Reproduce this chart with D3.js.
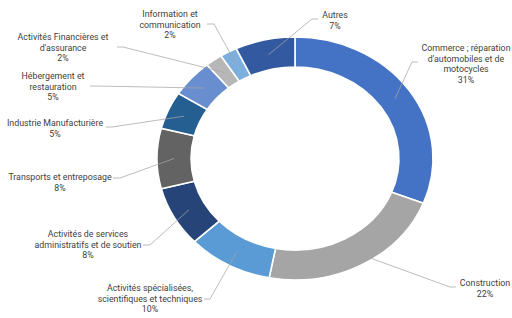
<!DOCTYPE html>
<html>
<head>
<meta charset="utf-8">
<script src="https://cdn.jsdelivr.net/npm/d3@7"></script>
<style>
  body { margin: 0; background: #fff; }
  svg text { font-family: 'Liberation Sans Narrow', 'Roboto', sans-serif; font-size: 8.8px; fill: #404040; }
</style>
</head>
<body>
<div id="chart"></div>
<script>
const categories = [
  ['Commerce ; réparation', "d'automobiles et de", 'motocycles'],
  ['Construction'],
  ['Activités spécialisées,', 'scientifiques et techniques'],
  ['Activités de services', 'administratifs et de soutien'],
  ['Transports et entreposage'],
  ['Industrie Manufacturière'],
  ['Hébergement et', 'restauration'],
  ['Activités Financières et', "d'assurance"],
  ['Information et', 'communication'],
  ['Autres']
]
const values = [31, 22, 10, 8, 8, 5, 5, 2, 2, 7]
const colors = ['#4472c4', '#a5a5a5', '#5b9bd5', '#264478', '#636363',
  '#255e91', '#698ed0', '#b7b7b7', '#7cafdd', '#335aa1']

// label layout: text centre x, first line centre y, leader elbow [x, y] and end x
const labelLayout = [
  { x: 466, y: 48, elbow: [412, 62], end: 418 },
  { x: 485, y: 283, elbow: [450, 287], end: 456 },
  { x: 150, y: 288, elbow: [210, 299], end: 204 },
  { x: 88, y: 234, elbow: [150, 245], end: 143 },
  { x: 60, y: 177, elbow: [120, 178], end: 113 },
  { x: 55, y: 123, elbow: [112, 127], end: 106 },
  { x: 53, y: 76, elbow: [96, 86], end: 90 },
  { x: 63, y: 37, elbow: [123, 47], end: 117 },
  { x: 170, y: 14, elbow: [214, 24], end: 207 },
  { x: 335, y: 15, elbow: [312, 19], end: 318 }
]

const dimensions = { width: 512, height: 318, cx: 295, cy: 158.5, rOuter: 121.5, rInner: 91.5, stretch: 1.136 }
const LINE_H = 10.7

const data = values.map((v, i) => ({ name: categories[i], value: v, color: colors[i], layout: labelLayout[i] }))

const svg = d3.select('#chart').append('svg')
  .attr('width', dimensions.width)
  .attr('height', dimensions.height)

const pie = d3.pie().sort(null).value(d => d.value)
const arc = d3.arc().innerRadius(dimensions.rInner).outerRadius(dimensions.rOuter)
const midR = (dimensions.rInner + dimensions.rOuter) / 2
const midArc = d3.arc().innerRadius(midR).outerRadius(midR)
const arcs = pie(data)

const ring = svg.append('g')
  .attr('transform', `translate(${dimensions.cx}, ${dimensions.cy}) scale(${dimensions.stretch}, 1)`)

ring.selectAll('path')
  .data(arcs)
  .join('path')
  .attr('d', arc)
  .attr('fill', d => d.data.color)
  .attr('stroke', '#fff')
  .attr('stroke-width', 1.6)
  .attr('vector-effect', 'non-scaling-stroke')

// leader lines
const toScreen = p => [dimensions.cx + p[0] * dimensions.stretch, dimensions.cy + p[1]]
svg.append('g')
  .selectAll('polyline')
  .data(arcs)
  .join('polyline')
  .attr('fill', 'none')
  .attr('stroke', '#a6a6a6')
  .attr('stroke-width', 0.75)
  .attr('points', d => {
    const c = toScreen(midArc.centroid(d))
    const l = d.data.layout
    return [c, l.elbow, [l.end, l.elbow[1]]].map(p => p.join(',')).join(' ')
  })

// labels
const labels = svg.append('g')
  .selectAll('text')
  .data(arcs)
  .join('text')
  .attr('text-anchor', 'middle')
  .attr('dominant-baseline', 'central')

labels.each(function (d) {
  const lines = d.data.name.concat([d.data.value + '%'])
  d3.select(this).selectAll('tspan')
    .data(lines)
    .join('tspan')
    .attr('x', d.data.layout.x)
    .attr('y', (t, i) => d.data.layout.y + i * LINE_H)
    .text(t => t)
})
</script>
</body>
</html>
